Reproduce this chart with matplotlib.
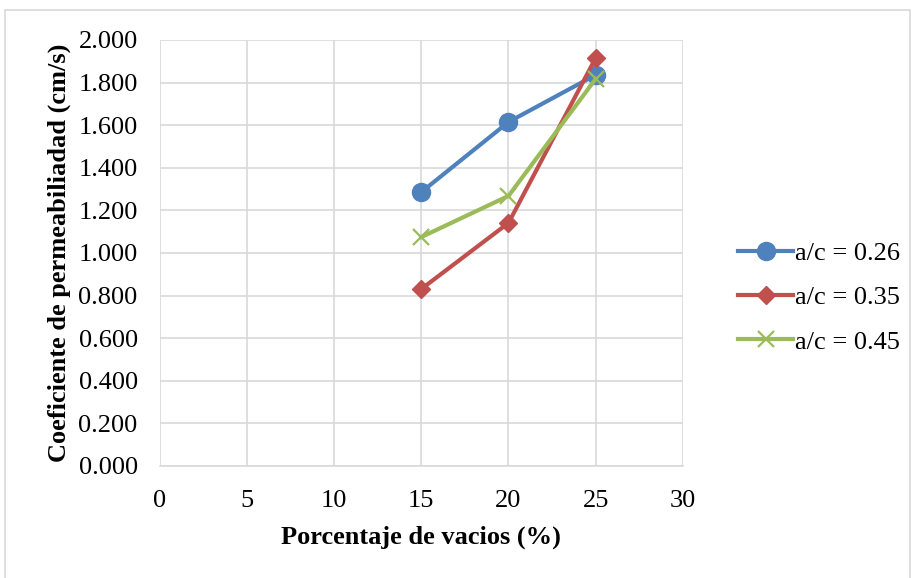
import numpy as np
import matplotlib
matplotlib.use("Agg")
import matplotlib.pyplot as plt
from matplotlib.patches import Rectangle

plt.rcParams['font.family'] = ['Liberation Serif', 'DejaVu Serif']

# data
vacios = [15, 20, 25]
ac_026 = [1.286, 1.615, 1.836]
ac_035 = [0.831, 1.141, 1.915]
ac_045 = [1.075, 1.268, 1.817]
labels = ['a/c = 0.26', 'a/c = 0.35', 'a/c = 0.45']

fig = plt.figure(figsize=(9.14, 5.78), dpi=100)
ax = fig.add_axes([0.175, 0.1938, 0.572, 0.737])

# outer chart border
fig.patches.append(Rectangle((0.006, -0.01), 0.99, 0.993, transform=fig.transFigure,
                             fill=False, edgecolor='#D9D9D9', linewidth=1.2))

ax.plot(vacios, ac_026, color='#4F81BD', lw=3, marker='o', ms=13, label=labels[0])
ax.plot(vacios, ac_035, color='#C0504D', lw=3, marker='D', ms=9.5, label=labels[1])
ax.plot(vacios, ac_045, color='#9BBB59', lw=3, marker='x', ms=12, mew=1.6, label=labels[2])

ax.set_xlim(0, 30)
ax.set_ylim(0, 2.0)
ax.set_xticks(np.arange(0, 31, 5))
ax.set_yticks(np.arange(0, 2.01, 0.2))
ax.set_yticklabels(['%.3f' % v for v in np.arange(0, 2.01, 0.2)])
ax.grid(True, color='#D9D9D9', lw=1.2)
ax.set_axisbelow(True)
for s in ax.spines.values():
    s.set_visible(False)
ax.spines['bottom'].set_visible(True)
ax.spines['bottom'].set_color('#D9D9D9')
ax.spines['bottom'].set_linewidth(1.2)
ax.tick_params(length=0, labelsize=19, pad=16)
ax.tick_params(axis='x', pad=17)

ax.set_xlabel('Porcentaje de vacios (%)', fontsize=19, fontweight='bold', labelpad=10)
ax.set_ylabel('Coeficiente de permeabiliadad (cm/s)', fontsize=19, fontweight='bold', labelpad=5)

ax.legend(loc='center left', bbox_to_anchor=(1.06, 0.395), frameon=False, fontsize=19,
          handlelength=2.1, handletextpad=0.05, labelspacing=0.78)

fig.savefig('out.png', dpi=100)
